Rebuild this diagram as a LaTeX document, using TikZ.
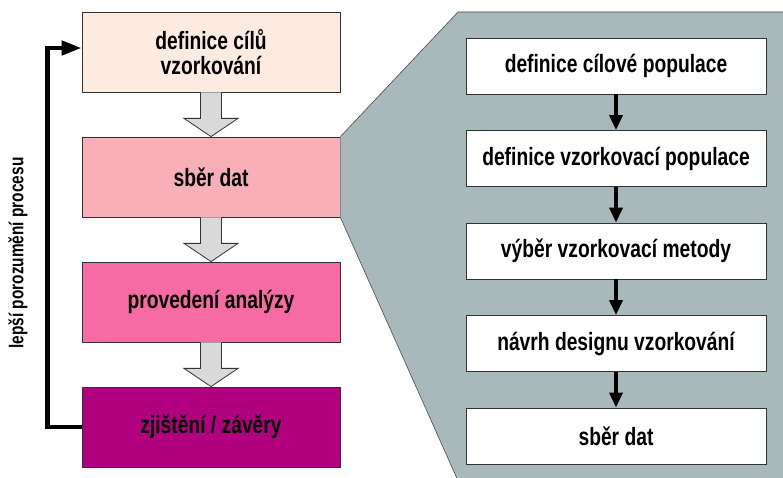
\documentclass[tikz,border=0pt]{standalone}
\usepackage{fontspec}
\setmainfont{Liberation Sans}[FakeStretch=0.77]
\usepackage{tikz}
\usetikzlibrary{shapes,arrows,arrows.meta,calc}
\definecolor{goalc}{HTML}{FDEBE2}
\definecolor{collectc}{HTML}{F8AFB8}
\definecolor{analysisc}{HTML}{F76BA5}
\definecolor{findingc}{HTML}{B0007F}
\definecolor{panelc}{HTML}{A9B9BB}
\definecolor{arrowgray}{HTML}{D9D9D9}
\tikzstyle{stage} = [draw=black!80, line width=0.8pt, minimum width=258pt, minimum height=80pt, align=center, font=\bfseries\fontsize{25}{25}\selectfont]
\tikzstyle{substep} = [draw=black!80, line width=0.8pt, fill=white, minimum width=300pt, minimum height=56pt, font=\bfseries\fontsize{25}{25}\selectfont]
\tikzstyle{blockarrow} = [draw=black!80, line width=0.8pt, fill=arrowgray, line join=miter]
\tikzstyle{flow} = [-{Triangle[length=15pt,width=13pt]}, line width=3.5pt]
\tikzstyle{loopback} = [-{Triangle[length=20pt,width=14pt]}, line width=4.5pt]
\tikzstyle{panel} = [draw=black!70, line width=0.6pt, fill=panelc]

\begin{document}
\begin{tikzpicture}[x=1pt, y=1pt]
		\useasboundingbox (0,0) rectangle (783,478);
		\clip (0,0) rectangle (783,478);
		
		\node [stage, fill=goalc] (goal) at (211,426) {definice cílů\\vzorkování};
		\node [stage, fill=collectc, below of=goal, node distance=125pt] (collect) {sběr dat};
		\node [stage, fill=analysisc, below of=collect, node distance=125pt] (analysis) {provedení analýzy};
		\node [stage, fill=findingc, below of=analysis, node distance=125pt] (findings) {zjištění / závěry};
		
		\foreach \a/\b in {goal/collect, collect/analysis, analysis/findings}
			\draw [blockarrow] ($(\a.south)+(-10.5,0)$) -- ($(\a.south)+(-10.5,-26)$) -- ($(\a.south)+(-27,-26)$) -- (\b.north) -- ($(\a.south)+(27,-26)$) -- ($(\a.south)+(10.5,-26)$) -- ($(\a.south)+(10.5,0)$);
		
		\draw [loopback] (findings.west) -- ++(-34,0) |- ($(goal.west)+(0,4)$);
		\node [rotate=90, font=\bfseries\fontsize{20}{20}\selectfont] (better) at (18,225) {lepší porozumění procesu};
		
		\draw [panel] (collect.north east) -- (458,466) -- (790,466) -- (790,-5) -- (459,-5) -- (collect.south east);
		
		\node [substep] (target) at (616,412) {definice cílové populace};
		\node [substep, below of=target, node distance=92.5pt] (frame) {definice vzorkovací populace};
		\node [substep, below of=frame, node distance=92.5pt] (method) {výběr vzorkovací metody};
		\node [substep, below of=method, node distance=92.5pt] (design) {návrh designu vzorkování};
		\node [substep, below of=design, node distance=92.5pt] (gather) {sběr dat};
		
		\draw [flow] (target) -- (frame);
		\draw [flow] (frame) -- (method);
		\draw [flow] (method) -- (design);
		\draw [flow] (design) -- (gather);
		
\end{tikzpicture}
\end{document}
